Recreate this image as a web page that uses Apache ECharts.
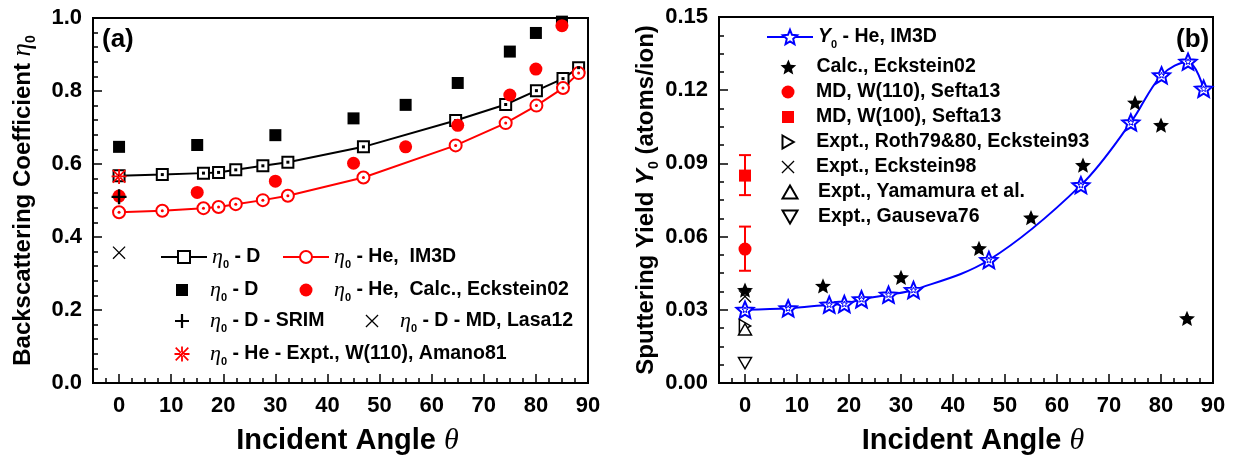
<!DOCTYPE html>
<html>
<head>
<meta charset="utf-8">
<script src="https://cdn.jsdelivr.net/npm/echarts@6/dist/echarts.min.js"></script>
<style>
  html, body { margin: 0; padding: 0; background: #fff; }
  #chart { width: 1236px; height: 455px; }
</style>
</head>
<body>
<div id="chart"></div>
<script>
// ---- data ----
// IM3D simulation angles (deg)
const im3dAngles = [0, 8.3, 16.2, 19.1, 22.4, 27.6, 32.4, 46.9, 64.6, 74.2, 80.1, 85.2, 88.2];
const etaD_IM3D  = [0.568, 0.571, 0.575, 0.577, 0.584, 0.595, 0.605, 0.647, 0.719, 0.763, 0.801, 0.834, 0.864];
const etaHe_IM3D = [0.468, 0.472, 0.479, 0.482, 0.490, 0.501, 0.513, 0.563, 0.651, 0.712, 0.760, 0.808, 0.849];
const y0He_IM3D  = [0.0300, 0.0306, 0.0321, 0.0324, 0.0343, 0.0362, 0.0381, 0.0504, 0.0811, 0.1068, 0.1261, 0.1317, 0.1206];

// Eckstein02 calculations
const eckAngles   = [0, 15, 30, 45, 55, 65, 75, 80, 85];
const etaD_Eck    = [0.647, 0.652, 0.679, 0.725, 0.762, 0.822, 0.908, 0.959, 0.990];
const etaHe_Eck   = [0.512, 0.522, 0.553, 0.602, 0.647, 0.706, 0.789, 0.860, 0.979];
const y0_Eck      = [0.0381, 0.0398, 0.0433, 0.0552, 0.0678, 0.0893, 0.1149, 0.1057, 0.0265];

// single normal-incidence references: [angle, value]
const etaD_SRIM     = [[0, 0.510]];
const etaD_Lasa12   = [[0, 0.357]];
const etaHe_Amano81 = [[0, 0.566]];
const y0_Sefta110   = [[0, 0.0549]];
const y0_Sefta110Err = [[0, 0.0460, 0.0641]];
const y0_Sefta100   = [[0, 0.0850]];
const y0_Sefta100Err = [[0, 0.0770, 0.0934]];
const y0_Roth       = [[0, 0.0234]];
const y0_Eck98      = [[0, 0.0355]];
const y0_Yamamura   = [[0, 0.0220]];
const y0_Gauseva76  = [[0, 0.0081]];

// axis ticks
const xMajorTicks = [0, 10, 20, 30, 40, 50, 60, 70, 80, 90];

// ---- helpers ----
const zip = (xs, ys) => xs.map((x, i) => [x, ys[i]]);
const FONT = 'Liberation Sans, Arial, Helvetica, sans-serif';
const SERIF = 'Liberation Serif, Times New Roman, serif';
const RED = '#ff0000', BLUE = '#0000ff', BLACK = '#000000';

function starPath(ratio) {
  const pts = [];
  for (let k = 0; k < 10; k++) {
    const r = k % 2 === 0 ? 50 : 50 * ratio;
    const a = -Math.PI / 2 + k * Math.PI / 5;
    pts.push((50 + r * Math.cos(a)).toFixed(2) + ',' + (50 + r * Math.sin(a)).toFixed(2));
  }
  return 'path://M' + pts.join(' L') + ' Z';
}
const STAR = starPath(0.45);
const SQUARE = 'path://M0,0 L10,0 L10,10 L0,10 Z';
const PLUS = 'path://M0,4.2 L10,4.2 L10,5.8 L0,5.8 Z M4.2,0 L5.8,0 L5.8,10 L4.2,10 Z';
const CROSS = 'path://M0,0.7 L0.7,0 L10,9.3 L9.3,10 Z M9.3,0 L10,0.7 L0.7,10 L0,9.3 Z';
const ASTER = 'path://M0,4.4 L10,4.4 L10,5.6 L0,5.6 Z M4.4,0 L5.6,0 L5.6,10 L4.4,10 Z ' +
              'M1.2,0.4 L0.4,1.2 L8.8,9.6 L9.6,8.8 Z M8.8,0.4 L9.6,1.2 L1.2,9.6 L0.4,8.8 Z';
const TRI_UP = 'path://M5,0 L10,8.66 L0,8.66 Z';
const TRI_DOWN = 'path://M0,0 L10,0 L5,8.66 Z';
const TRI_RIGHT = 'path://M0,0 L8.66,5 L0,10 Z';

const rich = {
  b:  { fontFamily: FONT, fontSize: 19.5, fontWeight: 'bold', color: BLACK, lineHeight: 26 },
  i:  { fontFamily: SERIF, fontSize: 22, fontStyle: 'italic', color: BLACK, lineHeight: 26 },
  iy: { fontFamily: FONT, fontSize: 19.5, fontStyle: 'italic', fontWeight: 'bold', color: BLACK, lineHeight: 26 },
  s:  { fontFamily: FONT, fontSize: 11, fontWeight: 'bold', color: BLACK, lineHeight: 11, verticalAlign: 'bottom' }
};

const legendText = {
  dLine:   '{i|η}{s|0}{b| - D}',
  heLine:  '{i|η}{s|0}{b| - He,  IM3D}',
  dEck:    '{i|η}{s|0}{b| - D}',
  heEck:   '{i|η}{s|0}{b| - He,  Calc., Eckstein02}',
  dSrim:   '{i|η}{s|0}{b| - D - SRIM}',
  dLasa:   '{i|η}{s|0}{b| - D - MD, Lasa12}',
  heAmano: '{i|η}{s|0}{b| - He - Expt., W(110), Amano81}',
  y0:      '{iy|Y}{s|0}{b| - He, IM3D}',
  yEck:    '{b|Calc., Eckstein02}',
  md110:   '{b|MD, W(110), Sefta13}',
  md100:   '{b|MD, W(100), Sefta13}',
  roth:    '{b|Expt., Roth79&80, Eckstein93}',
  eck98:   '{b|Expt., Eckstein98}',
  yama:    '{b|Expt., Yamamura et al.}',
  gause:   '{b|Expt., Gauseva76}'
};

// line entries: icon spans from `left` over 46px
function legendLine(name, left, centerY, h) {
  return {
    data: [name], left: left, top: centerY - 10, padding: 0,
    itemWidth: 46, itemHeight: h, itemGap: 0, selectedMode: false,
    formatter: n => legendText[n],
    textStyle: { rich: rich, color: BLACK }
  };
}
// marker-only entries: positioned by the marker centre
function legendMark(name, cx, centerY, h) {
  return {
    data: [name], left: cx - h / 2, top: centerY - 10, padding: 0,
    itemWidth: 46, itemHeight: h, itemGap: 0, selectedMode: false,
    formatter: n => legendText[n],
    textStyle: { rich: rich, color: BLACK }
  };
}

// ---- axes ----
function minorX(grid) {
  return {
    type: 'value', gridIndex: grid, min: -5, max: 90, interval: 2.5, position: 'bottom',
    axisLine: { show: true, onZero: false, lineStyle: { color: BLACK, width: 2 } },
    axisTick: { show: true, inside: true, length: 5, lineStyle: { color: BLACK, width: 1.5 } },
    axisLabel: { show: false }, splitLine: { show: false }
  };
}
function majorX(grid) {
  return {
    type: 'value', gridIndex: grid, min: -5, max: 90, position: 'bottom',
    axisLine: { show: false, onZero: false },
    axisTick: { show: true, inside: true, length: 9, customValues: xMajorTicks, lineStyle: { color: BLACK, width: 1.5 } },
    axisLabel: { show: true, customValues: xMajorTicks, margin: 12, color: BLACK, fontFamily: FONT, fontSize: 22, fontWeight: 'bold' },
    splitLine: { show: false },
    name: '{t|Incident Angle }{th|θ}', nameLocation: 'middle', nameGap: 43,
    nameTextStyle: { padding: [0, 0, 0, 14], rich: {
      t:  { fontFamily: FONT, fontSize: 29, fontWeight: 'bold', color: BLACK },
      th: { fontFamily: SERIF, fontSize: 30, fontStyle: 'italic', color: BLACK }
    } }
  };
}
function yAx(grid, max, interval, minorSplit, digits, name, gap) {
  return {
    type: 'value', gridIndex: grid, min: 0, max: max, interval: interval,
    axisLine: { show: true, onZero: false, lineStyle: { color: BLACK, width: 2 } },
    axisTick: { show: true, inside: true, length: 9, lineStyle: { color: BLACK, width: 1.5 } },
    minorTick: { show: true, splitNumber: minorSplit, length: 5, lineStyle: { color: BLACK, width: 1.5 } },
    axisLabel: { margin: 11, color: BLACK, fontFamily: FONT, fontSize: 22, fontWeight: 'bold',
                 formatter: v => v.toFixed(digits) },
    splitLine: { show: false },
    name: name, nameLocation: 'middle', nameGap: gap,
    nameTextStyle: { rich: {
      t: { fontFamily: FONT, fontSize: 24, fontWeight: 'bold', color: BLACK, lineHeight: 30 },
      i: { fontFamily: SERIF, fontSize: 27, fontStyle: 'italic', color: BLACK, lineHeight: 30 },
      iy: { fontFamily: FONT, fontSize: 24, fontStyle: 'italic', fontWeight: 'bold', color: BLACK, lineHeight: 30 },
      s: { fontFamily: FONT, fontSize: 14, fontWeight: 'bold', color: BLACK, lineHeight: 14, verticalAlign: 'bottom' }
    } }
  };
}

function errorBars(data, color) {
  return {
    type: 'custom', xAxisIndex: 3, yAxisIndex: 1, data: data, z: 3, silent: true,
    renderItem: (params, api) => {
      const x = api.value(0);
      const lo = api.coord([x, api.value(1)]);
      const hi = api.coord([x, api.value(2)]);
      const w = 6;
      const st = { stroke: color, lineWidth: 2 };
      return { type: 'group', children: [
        { type: 'line', shape: { x1: lo[0], y1: lo[1], x2: hi[0], y2: hi[1] }, style: st },
        { type: 'line', shape: { x1: lo[0] - w, y1: lo[1], x2: lo[0] + w, y2: lo[1] }, style: st },
        { type: 'line', shape: { x1: hi[0] - w, y1: hi[1], x2: hi[0] + w, y2: hi[1] }, style: st }
      ] };
    }
  };
}

const L = { xAxisIndex: 1, yAxisIndex: 0 };
const R = { xAxisIndex: 3, yAxisIndex: 1 };
const solid = c => ({ color: c, opacity: 1 });
const hollow = (c, w) => ({ color: '#ffffff', borderColor: c, borderWidth: w, opacity: 1 });

const option = {
  animation: false,
  backgroundColor: '#fff',
  textStyle: { fontFamily: FONT },
  title: [
    { text: '(a)', left: 102, top: 27, padding: 0, textStyle: { fontFamily: FONT, fontSize: 26, fontWeight: 'bold', color: BLACK } },
    { text: '(b)', left: 1176, top: 27, padding: 0, textStyle: { fontFamily: FONT, fontSize: 26, fontWeight: 'bold', color: BLACK } }
  ],
  grid: [
    { left: 93, top: 18, width: 495, height: 365, show: true, borderColor: BLACK, borderWidth: 2,
      backgroundColor: 'transparent', containLabel: false, outerBoundsMode: 'none' },
    { left: 719, top: 17, width: 494, height: 366, show: true, borderColor: BLACK, borderWidth: 2,
      backgroundColor: 'transparent', containLabel: false, outerBoundsMode: 'none' }
  ],
  xAxis: [minorX(0), majorX(0), minorX(1), majorX(1)],
  yAxis: [
    yAx(0, 1.0, 0.2, 5, 1, '{t|Backscattering Coefficient }{i|η}{s|0}', 55),
    yAx(1, 0.15, 0.03, 4, 2, '{t|Sputtering Yield }{iy|Y}{s|0}{t| (atoms/ion)}', 43)
  ],
  legend: [
    legendLine('dLine', 160, 256, 15),
    legendLine('heLine', 282, 256, 15),
    legendMark('dEck', 182, 289, 12),
    legendMark('heEck', 306, 289, 13),
    legendMark('dSrim', 182, 320, 14),
    legendMark('dLasa', 372, 320, 13),
    legendMark('heAmano', 182, 353, 15),
    legendLine('y0', 766, 37, 18),
    legendMark('yEck', 788, 67, 15),
    legendMark('md110', 788, 92, 13),
    legendMark('md100', 788, 117, 12),
    legendMark('roth', 788, 142, 13),
    legendMark('eck98', 788, 167, 13),
    legendMark('yama', 788, 192, 13),
    legendMark('gause', 788, 217, 13)
  ],
  series: [
    // (a) backscattering coefficient
    Object.assign({ name: 'dLine', type: 'line', data: zip(im3dAngles, etaD_IM3D), z: 2,
      symbol: 'emptyRect', symbolSize: 11, itemStyle: { color: BLACK, borderWidth: 2 },
      lineStyle: { color: BLACK, width: 2 } }, L),
    Object.assign({ name: 'dLineDot', type: 'scatter', data: zip(im3dAngles, etaD_IM3D), z: 3, silent: true,
      symbol: 'rect', symbolSize: 3, itemStyle: solid(BLACK) }, L),
    Object.assign({ name: 'heLine', type: 'line', data: zip(im3dAngles, etaHe_IM3D), z: 2,
      symbol: 'emptyCircle', symbolSize: 12, itemStyle: { color: RED, borderWidth: 2 },
      lineStyle: { color: RED, width: 2 } }, L),
    Object.assign({ name: 'heLineDot', type: 'scatter', data: zip(im3dAngles, etaHe_IM3D), z: 3, silent: true,
      symbol: 'circle', symbolSize: 3, itemStyle: solid(RED) }, L),
    Object.assign({ name: 'dEck', type: 'scatter', data: zip(eckAngles, etaD_Eck), z: 4,
      symbol: SQUARE, symbolSize: 12, itemStyle: solid(BLACK) }, L),
    Object.assign({ name: 'heEck', type: 'scatter', data: zip(eckAngles, etaHe_Eck), z: 5,
      symbol: 'circle', symbolSize: 13, itemStyle: solid(RED) }, L),
    Object.assign({ name: 'dSrim', type: 'scatter', data: etaD_SRIM, z: 6,
      symbol: PLUS, symbolSize: 15, itemStyle: solid(BLACK) }, L),
    Object.assign({ name: 'dLasa', type: 'scatter', data: etaD_Lasa12, z: 6,
      symbol: CROSS, symbolSize: 13, itemStyle: solid(BLACK) }, L),
    Object.assign({ name: 'heAmano', type: 'scatter', data: etaHe_Amano81, z: 6,
      symbol: ASTER, symbolSize: 15, itemStyle: solid(RED) }, L),

    // (b) sputtering yield
    Object.assign({ name: 'y0', type: 'line', data: zip(im3dAngles, y0He_IM3D), z: 2, smooth: 0.35,
      symbol: STAR, symbolSize: 17, symbolKeepAspect: true,
      itemStyle: hollow(BLUE, 2), lineStyle: { color: BLUE, width: 2 } }, R),
    Object.assign({ name: 'y0Dot', type: 'scatter', data: zip(im3dAngles, y0He_IM3D), z: 3, silent: true,
      symbol: STAR, symbolSize: 6, symbolKeepAspect: true, itemStyle: hollow(BLUE, 1) }, R),
    Object.assign({ name: 'eck98', type: 'scatter', data: y0_Eck98, z: 4,
      symbol: CROSS, symbolSize: 13, itemStyle: solid(BLACK) }, R),
    Object.assign({ name: 'yEck', type: 'scatter', data: zip(eckAngles, y0_Eck), z: 5,
      symbol: STAR, symbolSize: 16, symbolKeepAspect: true, itemStyle: solid(BLACK) }, R),
    errorBars(y0_Sefta110Err, RED),
    Object.assign({ name: 'md110', type: 'scatter', data: y0_Sefta110, z: 5,
      symbol: 'circle', symbolSize: 13, itemStyle: solid(RED) }, R),
    errorBars(y0_Sefta100Err, RED),
    Object.assign({ name: 'md100', type: 'scatter', data: y0_Sefta100, z: 5,
      symbol: SQUARE, symbolSize: 12, itemStyle: solid(RED) }, R),
    Object.assign({ name: 'roth', type: 'scatter', data: y0_Roth, z: 4,
      symbol: TRI_RIGHT, symbolSize: 13, symbolKeepAspect: true, itemStyle: hollow(BLACK, 1.5) }, R),
    Object.assign({ name: 'yama', type: 'scatter', data: y0_Yamamura, z: 4,
      symbol: TRI_UP, symbolSize: 13, symbolKeepAspect: true, itemStyle: hollow(BLACK, 1.5) }, R),
    Object.assign({ name: 'gause', type: 'scatter', data: y0_Gauseva76, z: 4,
      symbol: TRI_DOWN, symbolSize: 13, symbolKeepAspect: true, itemStyle: hollow(BLACK, 1.5) }, R)
  ]
};

const chart = echarts.init(document.getElementById('chart'), null, { renderer: 'canvas' });
chart.setOption(option);
</script>
</body>
</html>
